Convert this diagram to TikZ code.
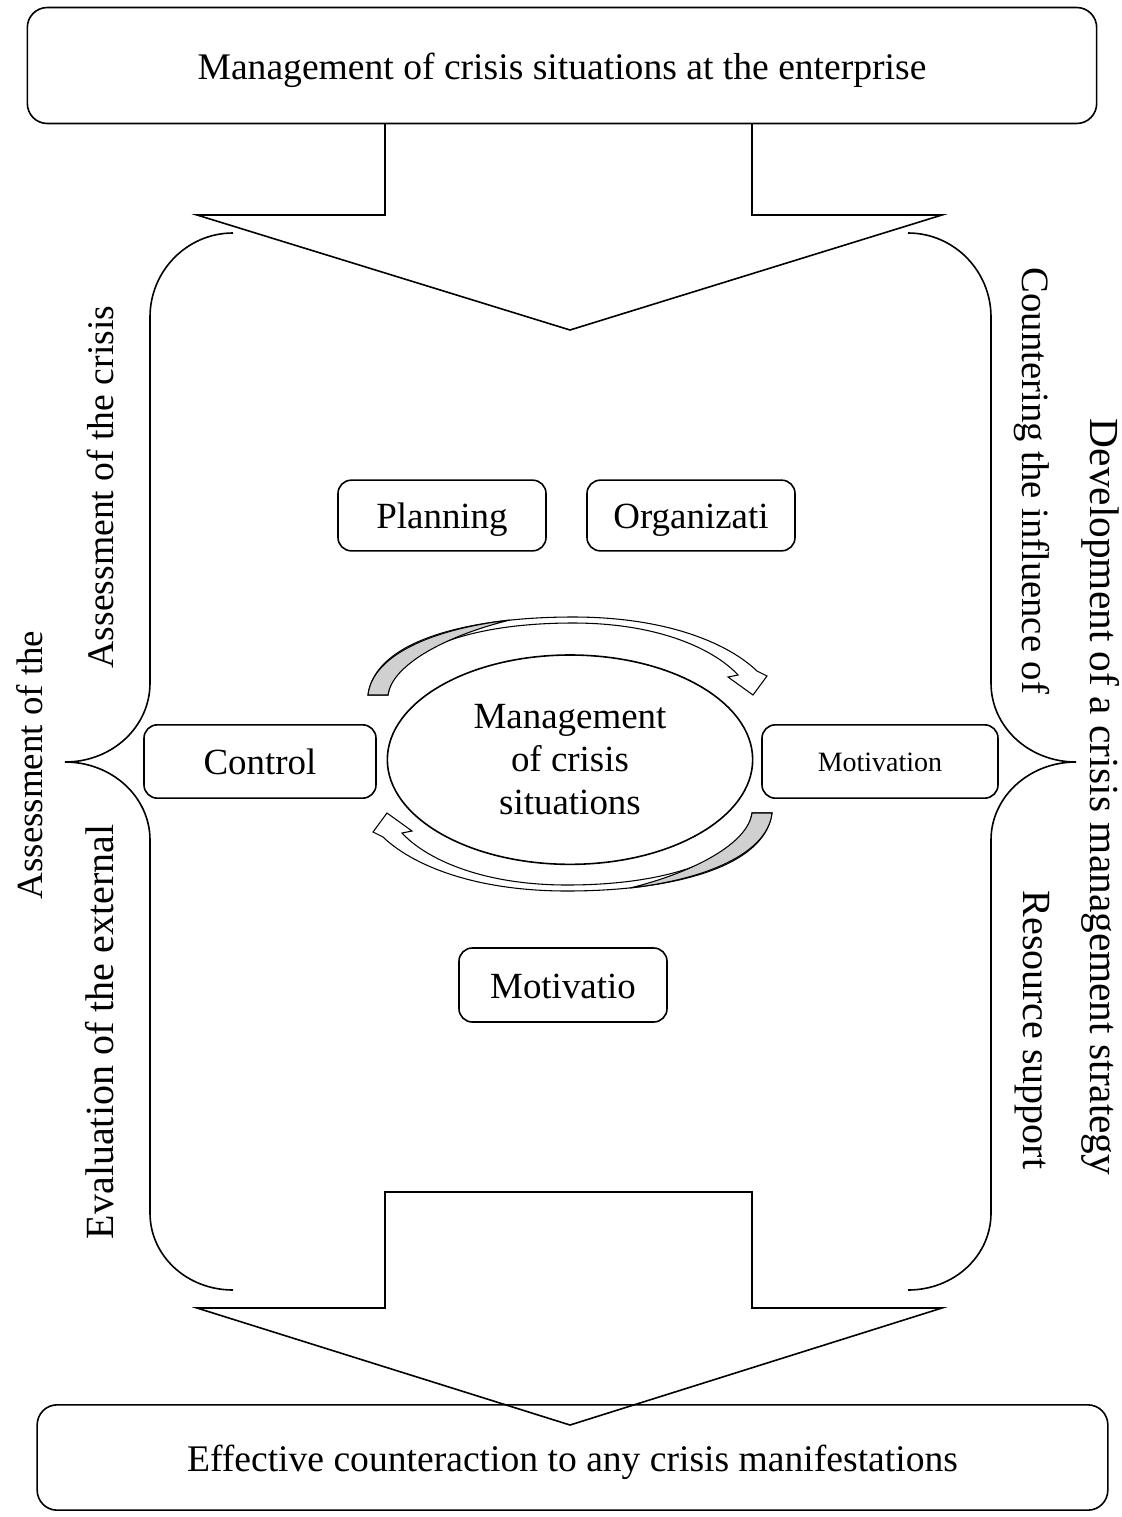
\documentclass[tikz,border=0pt]{standalone}
\usepackage{fontspec}
\setmainfont{Liberation Serif}
\usetikzlibrary{shapes.geometric}
\definecolor{backface}{RGB}{208,208,208}

\begin{document}
\begin{tikzpicture}[x=0.75pt,y=-0.75pt,line width=1.2pt,
  bigbox/.style={draw,rounded corners=15pt,minimum width=802pt,minimum height=87pt,inner sep=0pt,text height=21pt,text depth=0pt,font=\fontsize{28.2}{32}\selectfont},
  task/.style={draw,rounded corners=10pt,minimum width=156pt,minimum height=53pt,inner sep=0pt,text height=20pt,text depth=0pt,font=\fontsize{27.7}{32}\selectfont},
  hub/.style={draw,ellipse,minimum width=274pt,minimum height=157pt,inner sep=0pt,align=center,font=\fontsize{27.7}{32}\selectfont},
  sidetext/.style={inner sep=0pt,font=\fontsize{#1}{32}\selectfont},
  turn/.style={line width=0.8pt}]
\useasboundingbox (0,0) rectangle (1121,1517);

% block arrows
\draw (385,124) -- (385,215) -- (197,215) -- (570,330) -- (942,215) -- (752,215) -- (752,124);
\draw (385,1308) -- (385,1192) -- (752,1192) -- (752,1308) -- (942,1308) -- (570,1425) -- (197,1308) -- cycle;

% braces
\draw (233,233) .. controls (187,233) and (150,271) .. (150,317) -- (150,683)
  .. controls (150,727) and (112,762) .. (65,762) .. controls (112,762) and (150,797) .. (150,840)
  -- (150,1213) .. controls (150,1256) and (187,1290) .. (233,1290);
\draw (908,233) .. controls (954,233) and (991,271) .. (991,317) -- (991,683)
  .. controls (991,727) and (1029,762) .. (1076,762) .. controls (1029,762) and (991,797) .. (991,840)
  -- (991,1213) .. controls (991,1256) and (954,1290) .. (908,1290);

\node[bigbox] (top) at (562,65.5) {Management of crisis situations at the enterprise};
\node[bigbox,minimum width=803pt,minimum height=79pt] (goal) at (572.5,1457.5) {Effective counteraction to any crisis manifestations};

\node[task] (plan) at (442,515.5) {Planning};
\node[task] (org) at (691,515.5) {Organizati};
\node[task,minimum width=174pt,minimum height=55pt] (ctrl) at (260,761.5) {Control};
\node[task,minimum width=177pt,minimum height=55pt,text height=15pt,font=\fontsize{21}{24}\selectfont] (motiv) at (880,761.5) {Motivation};
\node[task,minimum height=55.5pt] (motivb) at (563,985) {Motivatio};
\node[hub,yshift=-2pt] (core) at (570,757) {Management\\of crisis\\situations};

% circular arrows
\foreach \a in {0,180}{
\begin{scope}[rotate around={\a:(570,754)},turn]
\filldraw[fill=white] (368,695) .. controls (375,640) and (470,617) .. (573,617)
  .. controls (670,617) and (730,645) .. (757,671) -- (767,676) -- (753,695) -- (728,677) -- (738,675)
  .. controls (715,650) and (660,623) .. (573,623) .. controls (470,623) and (395,650) .. (388,695) -- cycle;
\filldraw[fill=backface] (368,695) .. controls (372,658) and (425,630) .. (510,620)
  .. controls (445,636) and (392,665) .. (388,695) -- cycle;
\end{scope}
}

\node[sidetext=28.2,rotate=90] (crisis) at (100,487) {Assessment of the crisis};
\node[sidetext=27.7,rotate=90] (assess) at (30,765) {Assessment of the};
\node[sidetext=30,rotate=90] (extern) at (100,1032) {Evaluation of the external};
\node[sidetext=29,rotate=-90] (counter) at (1032,481) {Countering the influence of};
\node[sidetext=31,rotate=-90] (strategy) at (1101,797) {Development of a crisis management strategy};
\node[sidetext=30,rotate=-90] (resource) at (1032,1030) {Resource support};
\end{tikzpicture}
\end{document}
